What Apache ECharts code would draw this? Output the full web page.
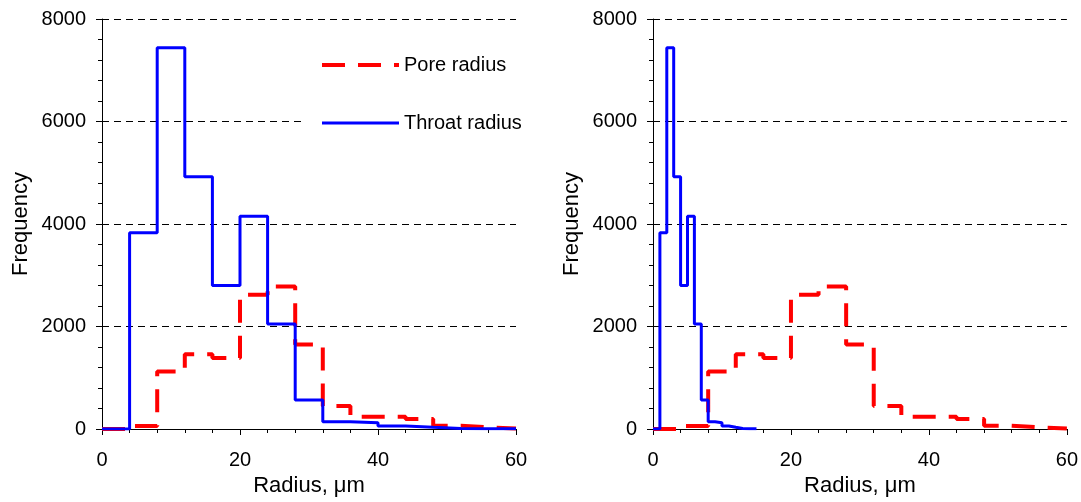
<!DOCTYPE html>
<html>
<head>
<meta charset="utf-8">
<script src="https://cdn.jsdelivr.net/npm/echarts@6/dist/echarts.min.js"></script>
<style>
  html, body { margin: 0; padding: 0; background: #fff; }
  #main { width: 1081px; height: 502px; }
</style>
</head>
<body>
<div id="main"></div>
<script>
// bin left edges (radius, um) - bins are 4 um wide on left plot
var binStart = [0, 4, 8, 12, 16, 20, 24, 28, 32, 36, 40, 44, 48, 52, 56];
// throat bins on right plot are 1 um wide
var throatBinStartRight = [0, 1, 2, 3, 4, 5, 6, 7, 8, 9, 10, 11, 12, 13, 14];
var throatFreq = [0, 3830, 7440, 4920, 2800, 4150, 2050, 565, 142, 123, 58, 33, 10, 5, 3];
var poreFreq = [0, 58, 1120, 1460, 1385, 2620, 2780, 1650, 450, 241, 241, 195, 65, 33, 10];
var yTicks = [0, 2000, 4000, 6000, 8000];
var xTicks = [0, 20, 40, 60];

// make step points: each bin start + closing point at last edge
function steps(starts, freqs, width) {
  var pts = [];
  for (var i = 0; i < starts.length; i++) {
    pts.push([starts[i], freqs[i]]);
  }
  pts.push([starts[starts.length - 1] + width, 0]);
  return pts;
}

var chart = echarts.init(document.getElementById("main"));
var font = "Liberation Sans";
var poreLine = { color: "#ff0000", width: 4, type: [23, 13] };
var throatLine = { color: "#0000ff", width: 3 };

function xAx(idx) {
  return {
    gridIndex: idx,
    type: "value",
    min: xTicks[0],
    max: xTicks[xTicks.length - 1],
    interval: 20,
    name: "Radius, μm",
    nameLocation: "middle",
    nameGap: 46,
    nameTextStyle: { fontFamily: font, fontSize: 22, color: "#000" },
    axisLine: { show: true, lineStyle: { color: "#000", width: 1 } },
    axisTick: { show: true, length: 6, lineStyle: { color: "#000" } },
    minorTick: { show: true, splitNumber: 5, length: 4, lineStyle: { color: "#000" } },
    axisLabel: { fontFamily: font, fontSize: 20, color: "#000", margin: 21 },
    splitLine: { show: false }
  };
}

function yAx(idx) {
  return {
    gridIndex: idx,
    type: "value",
    min: yTicks[0],
    max: yTicks[yTicks.length - 1],
    interval: 2000,
    name: "Frequency",
    nameLocation: "middle",
    nameGap: 70,
    nameTextStyle: { fontFamily: font, fontSize: 22, color: "#000" },
    axisLine: { show: true, lineStyle: { color: "#000", width: 1 } },
    axisTick: { show: true, length: 6, lineStyle: { color: "#000" } },
    minorTick: { show: true, splitNumber: 5, length: 4, lineStyle: { color: "#000" } },
    axisLabel: {
      fontFamily: font, fontSize: 20, color: "#000", margin: 16,
      formatter: function (v) { return String(v); }
    },
    splitLine: { show: true, lineStyle: { color: "#000", type: [7, 5], width: 1 } }
  };
}

var option = {
  animation: false,
  backgroundColor: "#fff",
  grid: [
    { left: 102, top: 19, width: 414, height: 410 },
    { left: 653, top: 19, width: 414, height: 410 }
  ],
  legend: {
    left: 306,
    top: 45,
    padding: [10, 4, 10, 14],
    backgroundColor: "#fff",
    orient: "vertical",
    itemWidth: 77,
    itemHeight: 14,
    itemGap: 38,
    data: [
      { name: "Pore radius", lineStyle: poreLine },
      { name: "Throat radius", lineStyle: throatLine }
    ],
    itemStyle: { opacity: 0 },
    textStyle: { fontFamily: font, fontSize: 20, color: "#000" }
  },
  xAxis: [xAx(0), xAx(1)],
  yAxis: [yAx(0), yAx(1)],
  series: [
    {
      name: "Pore radius",
      type: "line",
      step: "end",
      xAxisIndex: 0,
      yAxisIndex: 0,
      symbol: "none",
      lineStyle: poreLine,
      itemStyle: { color: "#ff0000" },
      data: steps(binStart, poreFreq, 4)
    },
    {
      name: "Throat radius",
      type: "line",
      step: "end",
      xAxisIndex: 0,
      yAxisIndex: 0,
      symbol: "none",
      lineStyle: throatLine,
      itemStyle: { color: "#0000ff" },
      data: steps(binStart, throatFreq, 4)
    },
    {
      name: "Pore radius",
      type: "line",
      step: "end",
      xAxisIndex: 1,
      yAxisIndex: 1,
      symbol: "none",
      lineStyle: poreLine,
      itemStyle: { color: "#ff0000" },
      data: steps(binStart, poreFreq, 4)
    },
    {
      name: "Throat radius",
      type: "line",
      step: "end",
      xAxisIndex: 1,
      yAxisIndex: 1,
      symbol: "none",
      lineStyle: throatLine,
      itemStyle: { color: "#0000ff" },
      data: steps(throatBinStartRight, throatFreq, 1)
    }
  ]
};

chart.setOption(option);
window.onresize = function () {
  chart.resize();
};
</script>
</body>
</html>
